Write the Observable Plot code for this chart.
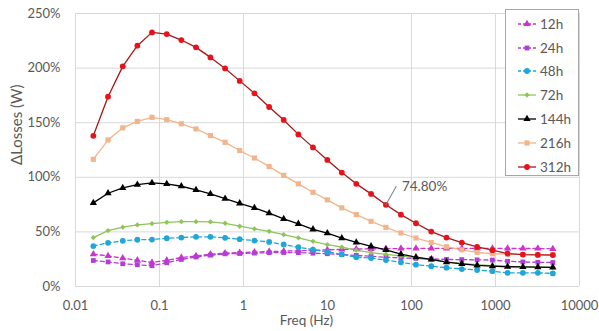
<!DOCTYPE html>
<html>
<head>
<meta charset="utf-8">
<script src="https://cdn.jsdelivr.net/npm/d3@7"></script>
<script src="https://cdn.jsdelivr.net/npm/@observablehq/plot@0.6"></script>
<style>
  html, body { margin: 0; padding: 0; background: #fff; }
  #wrap { position: relative; width: 599px; height: 331px; font-family: Lato, "Open Sans", sans-serif; }
  #legend { position: absolute; left: 505px; top: 9px; width: 74px; height: 167px; border: 1px solid #a6a6a6; background: #fff; box-sizing: border-box; }
  .row { position: absolute; left: 0; height: 20px; display: flex; align-items: center; }
  .row span { font-size: 13.5px; color: #595959; margin-left: 3px; }
</style>
</head>
<body>
<div id="wrap"></div>
<script>
// Frequencies (Hz)
const freq = [0.0163, 0.0244, 0.0365, 0.0545, 0.0814, 0.122, 0.182, 0.272, 0.404, 0.604, 0.901,
  1.35, 2.02, 3.01, 4.50, 6.72, 9.95, 14.8, 22.0, 33.0, 49.6, 74.8, 113, 172, 261, 397, 604,
  919, 1393, 2118, 3193, 4814];

// ΔLosses (%) per ageing time
const s12h = [29.6, 28, 25.9, 24, 22, 24, 26.5, 28, 29.5, 30.6, 31, 31.5, 32, 32.4, 32.8, 33.2,
  33.6, 34, 34.3, 34.5, 34.7, 34.8, 34.8, 34.9, 34.9, 34.9, 34.9, 34.9, 34.8, 34.8, 34.8, 34.5];
const s24h = [23.8, 22.5, 20.8, 19.9, 19, 21.7, 24.8, 27, 28.7, 29.9, 30.2, 30.6, 31, 31.1, 31, 30.5,
  30, 29.3, 28.5, 27.6, 26.8, 26.2, 25.7, 25.3, 24.8, 24.6, 24.4, 24.2, 23.1, 22.5, 22.2, 22];
const s48h = [37, 40, 41.8, 42.8, 43, 44.2, 44.8, 45.5, 45.5, 44.6, 43.3, 42.1, 40.8, 38.5, 36, 33.7,
  31.7, 29.5, 26.8, 26, 24.2, 22.2, 20, 18.6, 17.2, 16, 15.1, 14, 12.5, 12.5, 12.5, 12];
const s72h = [44.8, 51.2, 54.3, 56.4, 57.6, 58.8, 59.4, 59.4, 59.2, 57.9, 55.2, 52.8, 50.5, 47.5, 44.6, 41.4,
  38.3, 36, 33.3, 31.1, 29.5, 28, 26, 24.3, 22.6, 21.2, 20, 19.2, 18.5, 18, 17.8, 17.6];
const s144h = [76.6, 85.4, 90.3, 93.3, 94.9, 94, 91.8, 88.5, 84.8, 80.5, 76.2, 72, 67.1, 61.9, 57.4, 52.4,
  48.8, 44.2, 40.3, 36.8, 33.6, 29.6, 26.8, 24.9, 22.4, 20.8, 19.4, 18.6, 18.1, 17.9, 17.8, 17.6];
const s216h = [116.5, 134.2, 145.3, 151.2, 154.9, 152.8, 149, 144.3, 138.2, 132, 124.5, 117.7, 109.8, 101.8, 94, 86.3,
  79.3, 72, 65.9, 59.7, 54.2, 49, 44.4, 40.3, 36.4, 33.6, 31.3, 30, 29.6, 29.3, 29.2, 29.2];
const s312h = [138, 173.8, 201.6, 220.5, 232.7, 231.2, 225.7, 219, 209.8, 199.7, 188.3, 176.9, 164.4, 152.5, 139.3, 127.4,
  115.9, 104.3, 94, 84.8, 74.8, 65.8, 57.9, 50.3, 44.8, 40.2, 36.2, 33.3, 30.2, 29.2, 28.9, 28.8];

const seriesNames = ["12h", "24h", "48h", "72h", "144h", "216h", "312h"];
const seriesValues = [s12h, s24h, s48h, s72h, s144h, s216h, s312h];
const markerColors = ["#cc33cc", "#b03fd6", "#1ea7d8", "#8fc45a", "#000000", "#f2b48a", "#e8121a"];
const lineColors = ["#cc33cc", "#b03fd6", "#1ea7d8", "#8fc45a", "#000000", "#f2b48a", "#a3181c"];
const symbols = ["triangle", "square", "circle", "diamond2", "triangle", "square", "circle"];
const sizes = [2.7, 2.7, 2.9, 2.4, 2.7, 2.9, 2.9];
const dashed = [true, true, true, false, false, false, false];

const xTicks = [0.01, 0.1, 1, 10, 100, 1000, 10000];
const xTickLabels = ["0.01", "0.1", "1", "10", "100", "1000", "10000"];
const xGrid = [0.01, 0.1, 1, 100, 1000, 10000];
const yTicks = [0, 50, 100, 150, 200, 250];

const annotation = [{series: "312h", index: 20, label: "74.80%"}];

const rows = [];
seriesNames.forEach((name, s) => {
  seriesValues[s].forEach((v, i) => rows.push({series: name, s, freq: freq[i], value: v}));
});

const marks = [
  Plot.gridX(xGrid, {stroke: "#d9d9d9", strokeOpacity: 1}),
  Plot.gridY(yTicks, {stroke: "#d9d9d9", strokeOpacity: 1}),
  Plot.axisX(xTicks, {tickSize: 0, tickPadding: 14, fontSize: 13, fill: "#595959", label: null,
    tickFormat: d => xTickLabels[xTicks.indexOf(d)]}),
  Plot.axisY(yTicks, {tickSize: 0, tickPadding: 15, fontSize: 13, fill: "#595959", label: null,
    tickFormat: d => d + "%"}),
  Plot.text(["Freq (Hz)"], {frameAnchor: "bottom", dy: 38, dx: -21, fontSize: 13.5, fill: "#595959"}),
  Plot.text(["ΔLosses (W)"], {frameAnchor: "left", rotate: -90, dx: -58, dy: 15, fontSize: 15, fill: "#595959"})
];

seriesNames.forEach((name, s) => {
  const d = rows.filter(r => r.s === s);
  marks.push(Plot.line(d, {x: "freq", y: "value", stroke: lineColors[s], strokeWidth: 1.3,
    strokeDasharray: dashed[s] ? "4,3" : null}));
});
seriesNames.forEach((name, s) => {
  const d = rows.filter(r => r.s === s);
  marks.push(Plot.dot(d, {x: "freq", y: "value", symbol: symbols[s], r: sizes[s], fill: markerColors[s], stroke: "none"}));
});

const annRows = annotation.map(a => {
  const s = seriesNames.indexOf(a.series);
  return {freq: freq[a.index], value: seriesValues[s][a.index], label: a.label};
});
marks.push(Plot.vector(annRows, {x: "freq", y: "value", length: 21, rotate: 29, anchor: "start",
  stroke: "#808080", strokeWidth: 1,
  shape: {draw(context, l) { context.moveTo(0, 0); context.lineTo(0, -l); }}}));
marks.push(Plot.text(annRows, {x: "freq", y: "value", text: "label", textAnchor: "start",
  dx: 16, dy: -18, fontSize: 13.5, fill: "#595959"}));

const chart = Plot.plot({
  width: 599, height: 331,
  marginLeft: 75, marginRight: 20, marginTop: 13, marginBottom: 45,
  x: {type: "log", domain: [0.01, 10000]},
  y: {domain: [0, 250]},
  style: {fontFamily: "Lato, 'Open Sans', sans-serif", fontSize: "13px", background: "#fff", color: "#595959"},
  marks
});
const wrap = document.getElementById("wrap");
wrap.appendChild(chart);

// Legend
const legend = document.createElement("div");
legend.id = "legend";
const symMap = {triangle: d3.symbolTriangle, square: d3.symbolSquare, circle: d3.symbolCircle, diamond2: d3.symbolDiamond2};
seriesNames.forEach((name, s) => {
  const row = document.createElement("div");
  row.className = "row";
  row.style.top = (3.7 + s * 23.8) + "px";
  row.style.left = "11px";
  const svg = d3.create("svg").attr("width", 20).attr("height", 10);
  svg.append("line").attr("x1", 1).attr("x2", 19).attr("y1", 5).attr("y2", 5)
    .attr("stroke", lineColors[s]).attr("stroke-width", 1.3)
    .attr("stroke-dasharray", dashed[s] ? "3,2" : null);
  svg.append("path").attr("transform", "translate(10,5)")
    .attr("d", d3.symbol(symMap[symbols[s]], Math.PI * sizes[s] * sizes[s])())
    .attr("fill", markerColors[s]);
  row.appendChild(svg.node());
  const t = document.createElement("span");
  t.textContent = name;
  row.appendChild(t);
  legend.appendChild(row);
});
wrap.appendChild(legend);
</script>
</body>
</html>
